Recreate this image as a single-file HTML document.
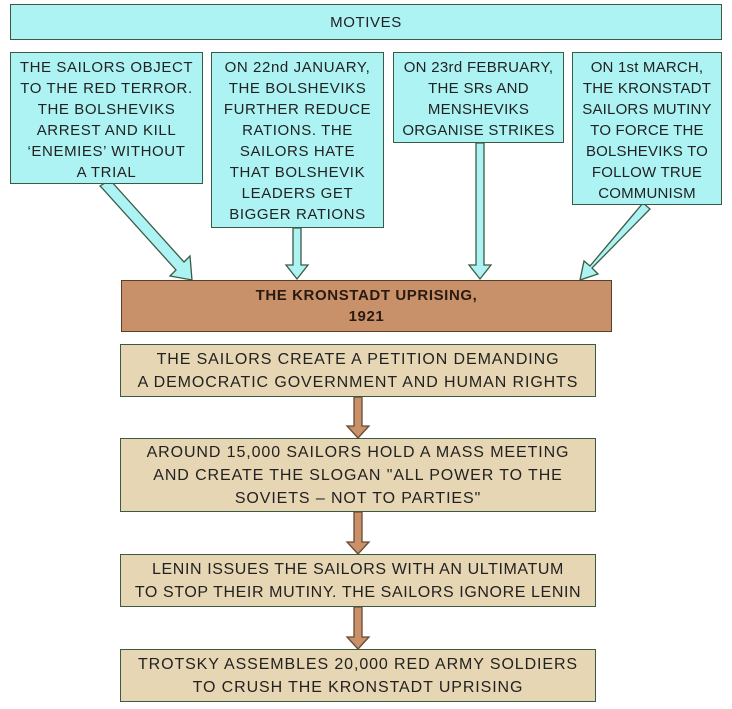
<!DOCTYPE html>
<html><head><style>
body{margin:0;width:732px;height:709px;background:#fff;position:relative;overflow:hidden;font-family:"Liberation Sans",sans-serif;}
.b{position:absolute;box-sizing:border-box;border:1.5px solid #3a5a44;display:flex;align-items:center;justify-content:center;text-align:center;color:#222;font-size:15px;letter-spacing:0.6px;line-height:21px;white-space:nowrap;}
.c{background:#aef3f3;align-items:flex-start;padding-top:4px;}
.t{background:#e6d6b4;font-size:16px;letter-spacing:0.9px;line-height:23px;}
</style></head><body>
<svg width="732" height="709" style="position:absolute;left:0;top:0">
<g fill="#aef3f3" stroke="#3a5a44" stroke-width="1.3">
<polygon points="100,186 110,180 184,262 190,256 192,280 170,276 176,270 102,188"/>
<polygon points="293,228 301,228 301,265 308,265 297,279 286,265 293,265"/>
<polygon points="476,143 484,143 484,265 491,265 480,279 469,265 476,265"/>
<polygon points="643,203 650,209 592,268 598,274 580,280 584,261 590,266"/>
</g>
<g fill="#c8916a" stroke="#6b4a30" stroke-width="1.3">
<polygon points="354,397 362,397 362,426 369,426 358,438 347,426 354,426"/>
<polygon points="354,512 362,512 362,542 369,542 358,554 347,542 354,542"/>
<polygon points="354,607 362,607 362,637 369,637 358,649 347,637 354,637"/>
</g>
</svg>
<div class="b c" style="left:10px;top:4px;width:712px;height:36px;align-items:center;padding:0;font-size:15px">MOTIVES</div>
<div class="b c" style="left:10px;top:52px;width:193px;height:132px">THE SAILORS OBJECT<br>TO THE RED TERROR.<br>THE BOLSHEVIKS<br>ARREST AND KILL<br>‘ENEMIES’ WITHOUT<br>A TRIAL</div>
<div class="b c" style="left:211px;top:52px;width:173px;height:176px">ON 22nd JANUARY,<br>THE BOLSHEVIKS<br>FURTHER REDUCE<br>RATIONS. THE<br>SAILORS HATE<br>THAT BOLSHEVIK<br>LEADERS GET<br>BIGGER RATIONS</div>
<div class="b c" style="left:393px;top:52px;width:171px;height:91px;letter-spacing:0.3px">ON 23rd FEBRUARY,<br>THE SRs AND<br>MENSHEVIKS<br>ORGANISE STRIKES</div>
<div class="b c" style="left:572px;top:52px;width:150px;height:153px;letter-spacing:0.2px">ON 1st MARCH,<br>THE KRONSTADT<br>SAILORS MUTINY<br>TO FORCE THE<br>BOLSHEVIKS TO<br>FOLLOW TRUE<br>COMMUNISM</div>
<div class="b" style="left:121px;top:280px;width:491px;height:52px;background:#c8916a;border-color:#5a3e28;font-weight:bold;font-size:15px;color:#2a1a10">THE KRONSTADT UPRISING,<br>1921</div>
<div class="b t" style="left:120px;top:344px;width:476px;height:53px">THE SAILORS CREATE A PETITION DEMANDING<br>A DEMOCRATIC GOVERNMENT AND HUMAN RIGHTS</div>
<div class="b t" style="left:120px;top:438px;width:476px;height:74px">AROUND 15,000 SAILORS HOLD A MASS MEETING<br>AND CREATE THE SLOGAN "ALL POWER TO THE<br>SOVIETS – NOT TO PARTIES"</div>
<div class="b t" style="left:120px;top:554px;width:476px;height:53px;letter-spacing:0.6px">LENIN ISSUES THE SAILORS WITH AN ULTIMATUM<br>TO STOP THEIR MUTINY. THE SAILORS IGNORE LENIN</div>
<div class="b t" style="left:120px;top:649px;width:476px;height:53px">TROTSKY ASSEMBLES 20,000 RED ARMY SOLDIERS<br>TO CRUSH THE KRONSTADT UPRISING</div>
</body></html>
